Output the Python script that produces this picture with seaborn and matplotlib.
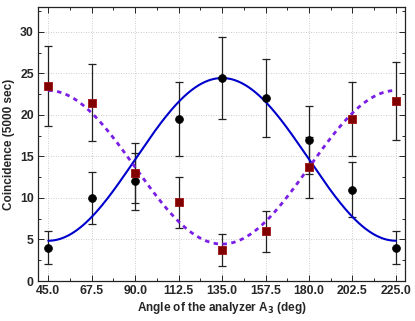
"""
Coincidence counts vs. analyzer angle A3, with cos^2 / sin^2 fits.
"""

import numpy as np
import pandas as pd
import matplotlib
matplotlib.use("Agg")
import matplotlib.pyplot as plt
from matplotlib.ticker import MultipleLocator
import seaborn as sns

# measured angles (deg)
angles = [45.0, 67.5, 90.0, 112.5, 135.0, 157.5, 180.0, 202.5, 225.0]

# coincidence counts per 5000 s
counts_black = [4, 10, 12, 19.5, 24.5, 22, 17, 11, 4]
counts_red = [23.5, 21.5, 13, 9.5, 3.7, 6, 13.7, 19.5, 21.7]

# fitted parameters: y = offset + amplitude * sin^2 / cos^2 (angle - 45)
fit_black = {"offset": 4.85, "amplitude": 19.6}
fit_red = {"offset": 4.45, "amplitude": 18.5}

tick_labels = ["45.0", "67.5", "90.0", "112.5", "135.0", "157.5", "180.0", "202.5", "225.0"]


def main():
    sns.set_style("ticks")
    plt.rcParams["font.family"] = ["Liberation Sans", "DejaVu Sans"]
    plt.rcParams["font.weight"] = "bold"

    df = pd.DataFrame({"angle": angles, "black": counts_black, "red": counts_red})

    # smooth fit curves
    theta = np.linspace(45, 225, 400)
    phase = np.deg2rad(theta - 45)
    curves = pd.DataFrame({
        "angle": theta,
        "black_fit": fit_black["offset"] + fit_black["amplitude"] * np.sin(phase) ** 2,
        "red_fit": fit_red["offset"] + fit_red["amplitude"] * np.cos(phase) ** 2,
    })

    fig = plt.figure(figsize=(4.15, 3.21), dpi=100)
    ax = fig.add_axes([0.0916, 0.1246, 0.8844, 0.8534])

    # error bars (Poisson, sqrt(N))
    for col in ["black", "red"]:
        ax.errorbar(df["angle"], df[col], yerr=np.sqrt(df[col]), fmt="none",
                    ecolor="#222222", elinewidth=0.9, capsize=3, capthick=0.9, zorder=2)

    sns.lineplot(data=curves, x="angle", y="black_fit", ax=ax, color="#0000cc",
                 linewidth=1.5, zorder=3)
    sns.lineplot(data=curves, x="angle", y="red_fit", ax=ax, color="#7a1ee6",
                 linewidth=2.0, linestyle=(0, (1.6, 1.6)), zorder=3)

    sns.scatterplot(data=df, x="angle", y="black", ax=ax, marker="o", s=32,
                    color="black", edgecolor="black", linewidth=0.5, zorder=4)
    sns.scatterplot(data=df, x="angle", y="red", ax=ax, marker="s", s=30,
                    color="#800000", edgecolor="#a01010", linewidth=0.6, zorder=4)

    ax.set_xlim(39.7, 229.7)
    ax.set_ylim(0, 33)
    ax.set_xticks(angles)
    ax.set_xticklabels(tick_labels)
    ax.xaxis.set_minor_locator(MultipleLocator(11.25))
    ax.yaxis.set_major_locator(MultipleLocator(5))
    ax.yaxis.set_minor_locator(MultipleLocator(2.5))
    ax.tick_params(which="both", direction="in", top=True, right=True,
                   labelsize=8.8, width=0.7, pad=3)
    ax.tick_params(which="major", length=4)
    ax.tick_params(which="minor", length=2)
    for lab in ax.get_xticklabels() + ax.get_yticklabels():
        lab.set_fontweight("bold")

    ax.grid(True, which="major", linestyle=(0, (1, 2)), color="#bbbbbb", linewidth=0.6)
    for sp in ax.spines.values():
        sp.set_linewidth(0.9)
        sp.set_color("#222222")

    ax.set_xlabel("Angle of the analyzer A$_{\\bf 3}$ (deg)", fontsize=8.5,
                  fontweight="bold", labelpad=2)
    ax.set_ylabel("Coincidence (5000 sec)", fontsize=8.5, fontweight="bold", labelpad=4)

    fig.savefig("out.png", dpi=100)
    plt.close(fig)


if __name__ == "__main__":
    main()
